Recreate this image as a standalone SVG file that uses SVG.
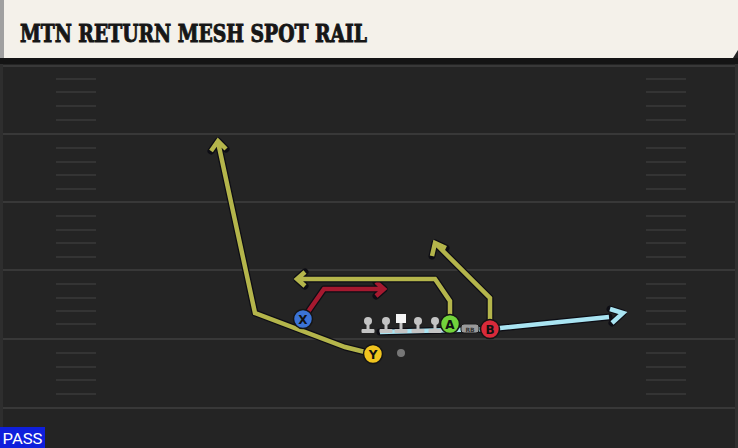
<svg xmlns="http://www.w3.org/2000/svg" width="738" height="448" viewBox="0 0 738 448">
<defs>
<style>
.yl{stroke:#383838;stroke-width:2}
.hm{stroke:#3a3a3a;stroke-width:1.5}
.ol{fill:none;stroke:#0d0d14;stroke-width:7;stroke-linejoin:round;stroke-linecap:round}
.rt{fill:none;stroke-width:4.5;stroke-linejoin:miter;stroke-linecap:butt}
.olive{stroke:#b4b54b}
.red{stroke:#a5192f}
.cyan{stroke:#a9e4f2}
.pc{stroke:#151515;stroke-width:1.5}
.pl{font-family:"DejaVu Sans","Liberation Sans",sans-serif;font-weight:bold;font-size:12px;fill:#111;text-anchor:middle}
.ln{fill:#c4c4c4}
</style>
</defs>
<rect width="738" height="448" fill="#242424"/>
<rect x="0" y="58" width="3" height="390" fill="#2e2e2e"/>
<rect x="735" y="58" width="3" height="390" fill="#303030"/>
<rect x="0" y="58" width="738" height="6" fill="#141414"/>
<g id="field">
<line class="yl" x1="3" y1="66" x2="735" y2="66"/>
<line class="yl" x1="3" y1="134" x2="735" y2="134"/>
<line class="yl" x1="3" y1="202" x2="735" y2="202"/>
<line class="yl" x1="3" y1="270" x2="735" y2="270"/>
<line class="yl" x1="3" y1="339" x2="735" y2="339"/>
<line class="yl" x1="3" y1="408" x2="735" y2="408"/>
<g class="hm">
<path d="M56 79H96M56 92H96M56 106H96M56 120H96M56 148H96M56 162H96M56 175H96M56 189H96M56 216H96M56 230H96M56 243H96M56 257H96M56 284H96M56 298H96M56 311H96M56 324H96M56 353H96M56 367H96M56 380H96M56 394H96"/>
<path d="M646 79H686M646 92H686M646 106H686M646 120H686M646 148H686M646 162H686M646 175H686M646 189H686M646 216H686M646 230H686M646 243H686M646 257H686M646 284H686M646 298H686M646 311H686M646 324H686M646 353H686M646 367H686M646 380H686M646 394H686"/>
</g>
</g>
<g id="header">
<path d="M4 0H738V50L733 58H4Z" fill="#f4f1ea"/>
<rect x="0" y="0" width="4" height="58" fill="#a0a0a0"/>
<text x="20" y="42" font-family="'DejaVu Serif Condensed','DejaVu Serif',serif" font-weight="bold" font-size="24" fill="#161616" stroke="#161616" stroke-width="0.9" textLength="347" lengthAdjust="spacingAndGlyphs">MTN RETURN MESH SPOT RAIL</text>
</g>
<g id="connectors">
<path class="ol" d="M380 332L490 329L609 317M610 309L623 313L612 323"/>
<path class="rt cyan" d="M380 332L490 329L609 317M610 309L623 313L612 323"/>
<path class="ol" d="M373 354L345 347L255 313L218 142M211 151L218 141L226 149"/>
<path class="rt olive" d="M373 354L345 347L255 313L218 142M211 151L218 141L226 149"/>
<path class="ol" d="M303 319L324 289L384 289M376 282L384 289L376 296"/>
<path class="rt red" d="M303 319L324 289L384 289M376 282L384 289L376 296"/>
<path class="ol" d="M450 324L450 301L435 279L297 279M305 272L297 279L305 286"/>
<path class="rt olive" d="M450 324L450 301L435 279L297 279M305 272L297 279L305 286"/>
<path class="ol" d="M490 329L490 298L435 243M432 256L435 243L446 248"/>
<path class="rt olive" d="M490 329L490 298L435 243M432 256L435 243L446 248"/>
</g>
<g id="line">
<g class="ln">
<circle cx="368" cy="321" r="4"/><rect x="366.5" y="321" width="3" height="9"/><rect x="361.5" y="329" width="13" height="4" rx="1"/>
<circle cx="386" cy="321" r="4"/><rect x="384.5" y="321" width="3" height="9"/><rect x="379.5" y="329" width="13" height="4" rx="1"/>
<rect x="399.5" y="321" width="3" height="9"/><rect x="394.5" y="329" width="13" height="4" rx="1"/>
<circle cx="418" cy="321" r="4"/><rect x="416.5" y="321" width="3" height="9"/><rect x="411.5" y="329" width="13" height="4" rx="1"/>
<circle cx="435" cy="321" r="4"/><rect x="433.5" y="321" width="3" height="9"/><rect x="428.5" y="329" width="13" height="4" rx="1"/>
</g>
<rect x="396" y="314" width="10" height="9" fill="#f5f5f5"/>
</g>
<g id="rb">
<rect x="461" y="324" width="18" height="9" rx="3" fill="#9a9a9a" stroke="#1a1a1a" stroke-width="1"/>
<text x="470" y="331.5" font-family="'DejaVu Sans',sans-serif" font-weight="bold" font-size="6" fill="#333" text-anchor="middle">RB</text>
</g>
<g id="qb"><circle cx="401" cy="353" r="4" fill="#777"/></g>
<g id="X"><circle class="pc" cx="303" cy="319" r="9.5" fill="#3b73d6"/><text class="pl" x="303" y="323.5">X</text></g>
<g id="Y"><circle class="pc" cx="373" cy="354" r="9.5" fill="#f1c41e"/><text class="pl" x="373" y="358.5">Y</text></g>
<g id="A"><circle class="pc" cx="450" cy="324" r="9.5" fill="#72d33b"/><text class="pl" x="450" y="328.5">A</text></g>
<g id="B"><circle class="pc" cx="490" cy="329" r="9.5" fill="#d92a3a"/><text class="pl" x="490" y="333.5">B</text></g>
<g id="pass">
<rect x="0" y="427" width="45" height="21" fill="#0f1fdc"/>
<text x="22.5" y="443.5" font-family="'Roboto','Liberation Sans',sans-serif" font-size="15" fill="#ffffff" text-anchor="middle" textLength="40" lengthAdjust="spacingAndGlyphs">PASS</text>
</g>
</svg>
